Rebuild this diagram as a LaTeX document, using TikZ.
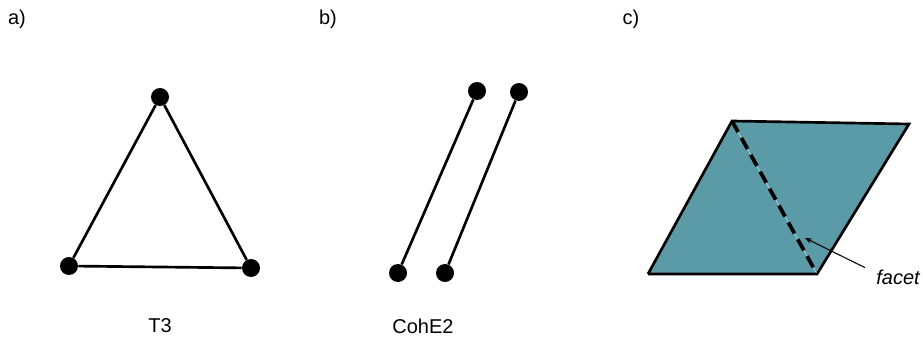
\documentclass[tikz,border=0pt]{standalone}
\usepackage{fontspec}
\setmainfont{Liberation Sans}
\usetikzlibrary{arrows.meta}
\definecolor{cFacet}{RGB}{91,155,168}
\tikzset{
	vertex/.style   ={circle, fill=black, minimum size=13.5pt, inner sep=0pt},
	edge/.style     ={line width=2pt},
	lbl/.style      ={font=\fontsize{15}{18}\selectfont},
	pointer/.style  ={-{Stealth[length=5pt, width=4pt]}, line width=0.8pt},
}
\begin{document}
\begin{tikzpicture}[x=0.75pt, y=-0.75pt]
	\useasboundingbox (0,0) rectangle (923,338);
	% labels
	\node[lbl] (la) at (17,19) {a)};
	\node[lbl] (lb) at (328,19) {b)};
	\node[lbl] (lc) at (631,19) {c)};
	% a) triangle
	\node[vertex] (t1) at (160,97) {};
	\node[vertex] (t2) at (69,266) {};
	\node[vertex] (t3) at (251,268) {};
	\draw[edge] (t1) -- (t2) -- (t3) -- (t1);
	\node[lbl] (nT) at (160,326) {T3};
	% b) two edges
	\node[vertex] (e1a) at (398,273) {};
	\node[vertex] (e1b) at (477,91) {};
	\node[vertex] (e2a) at (445,273) {};
	\node[vertex] (e2b) at (519,92) {};
	\draw[edge] (e1a) -- (e1b);
	\draw[edge] (e2a) -- (e2b);
	\node[lbl] (nC) at (423,326) {CohE2};
	% c) facet
	\coordinate (p1) at (732,121);
	\coordinate (p2) at (909,124);
	\coordinate (p3) at (817,274);
	\coordinate (p4) at (648,274);
	\fill[cFacet] (p1) -- (p2) -- (p3) -- (p4) -- cycle;
	\draw[edge] (p4) -- (p1) -- (p2) -- (p3) -- (p4);
	\draw[cFacet!45!white, line width=0.5pt] (p1) -- (p3);
	\draw[line width=2.8pt, dash pattern=on 9.5pt off 5pt] (p1) -- (p3);
	\node[lbl, font=\fontsize{15}{18}\selectfont\itshape] (nF) at (898,277) {facet};
	\coordinate (fTip) at (805,238);
	\draw[pointer] (nF.north west) ++(-5pt,-2pt) coordinate (fTail) (fTail) -- (fTip);
\end{tikzpicture}
\end{document}
